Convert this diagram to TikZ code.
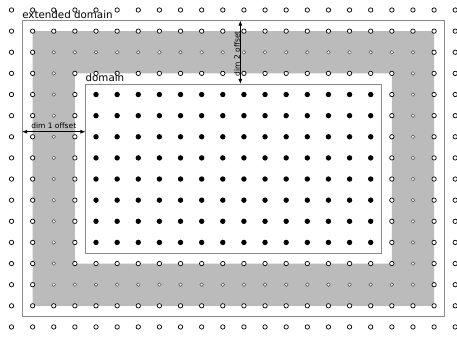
\documentclass[tikz,border=0pt]{standalone}
\usepackage{fontspec}
\setmainfont{DejaVu Sans}
\usetikzlibrary{arrows.meta}
\definecolor{bandgray}{RGB}{187,187,187}
\definecolor{framegray}{RGB}{140,140,140}
\tikzset{
  pt/.style={circle,draw=black,fill=white,line width=0.7pt,inner sep=0pt,minimum size=4.4pt},
  ptsmall/.style={circle,draw=black!70,fill=white,line width=0.5pt,inner sep=0pt,minimum size=3.6pt},
  ptin/.style={circle,fill=black,inner sep=0pt,minimum size=5.4pt},
  frame/.style={draw=framegray,line width=0.8pt},
  dimarrow/.style={{Latex[length=5pt,width=4pt]}-{Latex[length=5pt,width=4pt]},line width=0.8pt,black},
  biglabel/.style={font=\fontsize{10.3}{12}\selectfont,inner sep=0pt},
  smalllabel/.style={font=\fontsize{7.5}{9}\selectfont,inner sep=0pt}
}
\begin{document}
\begin{tikzpicture}[x=21.13pt,y=-21.13pt]
\useasboundingbox (-0.5443,-0.4733) rectangle (21.0845,15.5229);
% band
\fill[bandgray,even odd rule] (1,1) rectangle (20,14) (3,3) rectangle (18,12);
% frames
\draw[frame] (0.5,0.5) rectangle (20.5,14.5);
\draw[frame] (3.5,3.5) rectangle (17.5,11.5);
% grid points
\foreach \k in {0,...,21}{
  \foreach \j in {0,...,15}{
    \pgfmathtruncatemacro\isin{(\k>=4)*(\k<=17)*(\j>=4)*(\j<=11)}
    \pgfmathtruncatemacro\isring{(\k>=2)*(\k<=19)*(\j>=2)*(\j<=13)*(((\k==2)+(\k==19)+(\j==2)+(\j==13))>0)}
    \ifnum\isin=1
      \node[ptin] (p-\k-\j) at (\k,\j) {};
    \else\ifnum\isring=1
      \node[ptsmall] (p-\k-\j) at (\k,\j) {};
    \else
      \node[pt] (p-\k-\j) at (\k,\j) {};
    \fi\fi
  }
}
% labels
\node[biglabel,anchor=base west] (extlabel) at (0.5,0.41) {extended domain};
\node[biglabel,anchor=base west] (domlabel) at (3.5,3.38) {domain};
% dim arrows
\coordinate (d1a) at (0.5,5.76);
\coordinate (d1b) at (3.5,5.76);
\draw[dimarrow] (d1a) -- node[smalllabel,above=3pt] (d1label) {dim 1 offset} (d1b);
\coordinate (d2a) at (10.83,0.5);
\coordinate (d2b) at (10.83,3.5);
\draw[dimarrow] (d2a) -- node[smalllabel,rotate=90,anchor=south,yshift=0pt,xshift=-1.5pt] (d2label) {dim 2 offset} (d2b);
\end{tikzpicture}
\end{document}
